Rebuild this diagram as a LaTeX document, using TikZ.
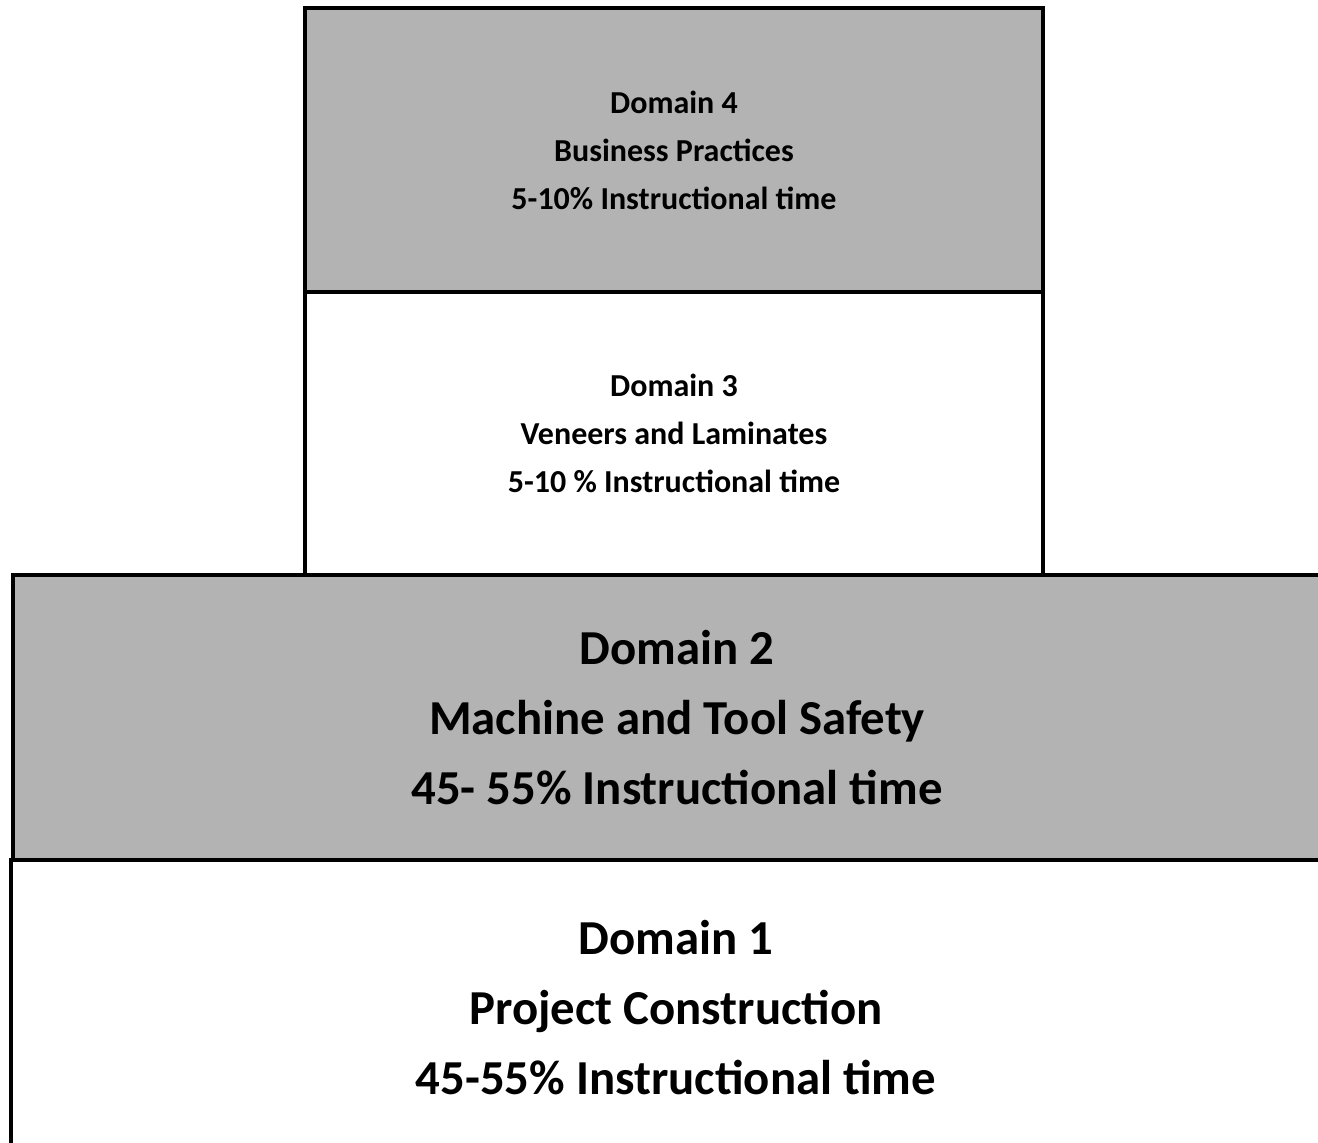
\documentclass[tikz,border=0pt]{standalone}
\usepackage{fontspec}
\setmainfont{Carlito}
\usetikzlibrary{positioning}

\definecolor{boxgray}{HTML}{B3B3B3}

\tikzset{
	domainbox/.style={draw=black, line width=2pt, rectangle, inner sep=0pt, outer sep=0pt, align=center},
	smalltext/.style={font=\bfseries\fontsize{16}{24}\selectfont},
	bigtext/.style={font=\bfseries\fontsize{24.4}{35}\selectfont}
}

\begin{document}
\begin{tikzpicture}[x=0.5pt, y=-0.5pt]
			\useasboundingbox (0, 0) rectangle (1318, 1142);
			
			% lower, wide part (runs off the right and bottom)
			\node[domainbox, bigtext, minimum width=665pt, minimum height=148pt, anchor=north west] (d1) at (11, 860)
				{Domain 1\\Project Construction\\45-55\% Instructional time};
			\node[domainbox, bigtext, fill=boxgray, minimum width=664pt, minimum height=142.5pt, anchor=south west] (d2) at (13, 860)
				{Domain 2\\Machine and Tool Safety\\45- 55\% Instructional time};
			
			% upper, narrow part
			\node[domainbox, smalltext, minimum width=369pt, minimum height=141.5pt, anchor=south west] (d3) at (305, 575)
				{Domain 3\\Veneers and Laminates\\5-10 \% Instructional time};
			\node[domainbox, smalltext, fill=boxgray, minimum width=369pt, minimum height=142pt, above=0pt of d3] (d4)
				{Domain 4\\Business Practices\\5-10\% Instructional time};
		\end{tikzpicture}
\end{document}
